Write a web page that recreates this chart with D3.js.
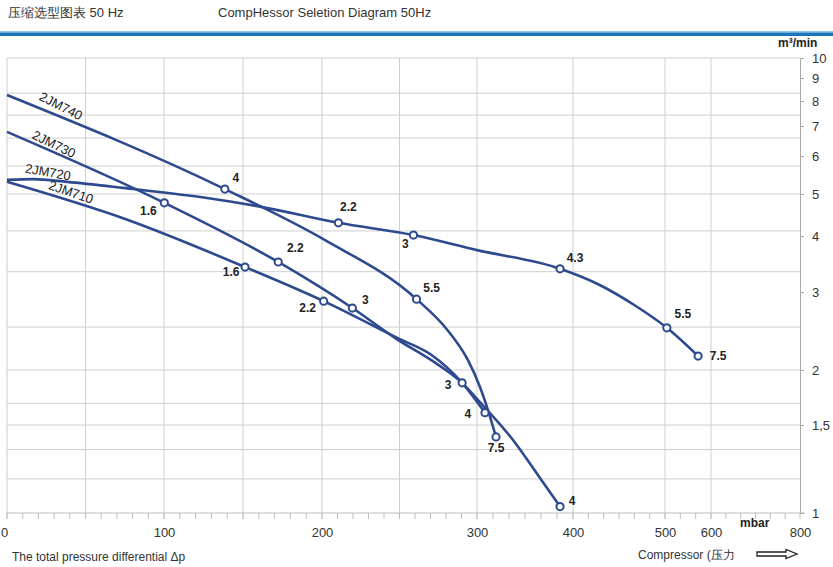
<!DOCTYPE html>
<html><head><meta charset="utf-8">
<script src="https://cdn.jsdelivr.net/npm/d3@7"></script>
<style>
html,body{margin:0;padding:0;background:#fff;}
svg{display:block;font-family:"Liberation Sans",Arial,sans-serif;}
</style></head>
<body>
<svg id="chart" width="833" height="567"></svg>
<script>
// ---------------- data ----------------
const titleLeft = "压缩选型图表 50 Hz";
const titleRight = "CompHessor Seletion Diagram 50Hz";
const xTickValues = [0, 100, 200, 300, 400, 500, 600, 800];
const xGridValues = [50, 100, 150, 200, 250, 300, 400, 500, 600];
const yTickValues = [1, 1.5, 2, 3, 4, 5, 6, 7, 8, 9, 10];
const yTickLabels = ["1", "1,5", "2", "3", "4", "5", "6", "7", "8", "9", "10"];
const yGridValues = [8.33, 7.42, 6.58, 5.72, 5.0, 4.11, 3.33, 2.5, 2.0, 1.68, 1.5, 1.34, 1.17];

const seriesNames = ["2JM740", "2JM730", "2JM720", "2JM710"];
// curve points: [pressure mbar, flow m3/min]
const curve740 = [[0,8.25],[138.5,5.12],[201.7,3.92],[261,2.89],[281,2.46],[294,2.11],[303.1,1.83],[311.5,1.62],[319.8,1.42]];
const curve730 = [[0,6.79],[100.2,4.77],[172.3,3.50],[219.6,2.76],[248.9,2.34],[270,2.11],[290.4,1.87],[303.1,1.69],[337.5,1.40],[365.6,1.175],[386.5,1.03]];
const curve720 = [[0,5.35],[16.6,5.37],[38.3,5.30],[74,5.15],[123,4.92],[161.5,4.67],[210.6,4.29],[259,4.02],[300,3.72],[386.5,3.38],[429,3.11],[467,2.80],[504,2.49],[572,2.15]];
const curve710 = [[0,5.30],[76.6,4.36],[151.3,3.41],[201.1,2.86],[248.9,2.36],[270,2.17],[290.4,1.87],[308.3,1.60]];
// markers: [pressure, flow, motor kW label]
const markers740 = [[138.5,5.12,"4"],[261,2.89,"5.5"],[319.8,1.42,"7.5"]];
const markers730 = [[100.2,4.77,"1.6"],[172.3,3.50,"2.2"],[219.6,2.76,"3"],[386.5,1.03,"4"]];
const markers720 = [[210.6,4.29,"2.2"],[259,4.02,"3"],[386.5,3.38,"4.3"],[504,2.49,"5.5"],[572,2.15,"7.5"]];
const markers710 = [[151.3,3.41,"1.6"],[201.1,2.86,"2.2"],[290.4,1.87,"3"],[308.3,1.60,"4"]];

// ---------------- layout ----------------
const svg = d3.select("#chart");
const blue = "#2d4a8f";
const gridCol = "#cfcfcf";

const x = d3.scaleLinear()
  .domain([0, 100, 200, 300, 400, 500, 600, 800])
  .range([7, 164, 322, 477, 573, 665, 711, 800]);
const y = d3.scaleLog()
  .domain([1, 1.5, 2, 3, 4, 5, 6, 7, 8, 9, 10])
  .range([513, 425, 370, 292, 236, 194, 156, 126, 101, 78, 58]);

// header
svg.append("text").attr("x", 8).attr("y", 17).attr("font-size", 13).attr("fill", "#333").text(titleLeft);
svg.append("text").attr("x", 218).attr("y", 17).attr("font-size", 13).attr("fill", "#333").text(titleRight);
svg.append("rect").attr("x", 0).attr("y", 31).attr("width", 833).attr("height", 1.5).attr("fill", "#8cc4ea");
svg.append("rect").attr("x", 0).attr("y", 32.5).attr("width", 833).attr("height", 3.5).attr("fill", "#1a77bd");

// grid
const g = svg.append("g");
g.selectAll("line.hg").data(yGridValues.concat([10])).enter().append("line")
  .attr("x1", x(0)).attr("x2", x(800))
  .attr("y1", d => y(d)).attr("y2", d => y(d))
  .attr("stroke", gridCol).attr("stroke-width", 1);
g.selectAll("line.vg").data(xGridValues).enter().append("line")
  .attr("x1", d => x(d)).attr("x2", d => x(d))
  .attr("y1", y(10)).attr("y2", y(1) + 6)
  .attr("stroke", gridCol).attr("stroke-width", 1);
// left border
g.append("line").attr("x1", x(0)).attr("x2", x(0)).attr("y1", y(10)).attr("y2", y(1) + 6)
  .attr("stroke", gridCol);
// bottom axis line
g.append("line").attr("x1", x(0)).attr("x2", x(800) + 5).attr("y1", y(1)).attr("y2", y(1))
  .attr("stroke", "#bdbdbd");
// minor ticks
const minorTicks = [].concat(
  d3.range(0, 300, 10),
  d3.range(0, 6).map(i => 300 + i * 100 / 6),
  d3.range(0, 6).map(i => 400 + i * 100 / 6),
  d3.range(0, 3).map(i => 500 + i * 100 / 3),
  d3.range(0, 7).map(i => 600 + i * 200 / 6)
);
g.selectAll("line.mt").data(minorTicks).enter().append("line")
  .attr("x1", d => x(d)).attr("x2", d => x(d))
  .attr("y1", y(1)).attr("y2", y(1) + 6)
  .attr("stroke", "#bdbdbd");

// right axis
const yAxis = d3.axisRight(y).tickValues(yTickValues)
  .tickFormat((d, i) => yTickLabels[i]).tickSize(4).tickSizeOuter(0).tickPadding(8);
const ya = svg.append("g").attr("transform", `translate(${x(800)},0)`).call(yAxis);
ya.select(".domain").attr("stroke", "#a8a8a8");
ya.selectAll(".tick line").attr("stroke", "#a8a8a8");
ya.selectAll(".tick text").attr("font-size", 13).attr("fill", "#333")
  .attr("font-family", "Liberation Sans, Arial, sans-serif");

// bottom axis labels
const xAxis = d3.axisBottom(x).tickValues(xTickValues).tickSize(0).tickPadding(15);
const xa = svg.append("g").attr("transform", `translate(0,${y(1)})`).call(xAxis);
xa.select(".domain").remove();
xa.selectAll(".tick text").attr("font-size", 13).attr("fill", "#333")
  .attr("font-family", "Liberation Sans, Arial, sans-serif")
  .attr("dx", d => d === 0 ? -3 : 0);

// unit labels
svg.append("text").attr("x", 778).attr("y", 47).attr("font-size", 12).attr("font-weight", "bold").attr("fill", "#222")
  .text("m³/min");
svg.append("text").attr("x", 740).attr("y", 527).attr("font-size", 12).attr("font-weight", "bold").attr("fill", "#222")
  .text("mbar");
svg.append("text").attr("x", 12).attr("y", 561).attr("font-size", 12).attr("fill", "#333")
  .text("The total pressure differential \u0394p");
svg.append("text").attr("x", 638).attr("y", 559).attr("font-size", 12).attr("fill", "#333")
  .text("Compressor (压力");
// arrow
svg.append("path")
  .attr("d", "M757,552 L786,552 L786,549.5 L797,554 L786,558.5 L786,556 L757,556 Z")
  .attr("fill", "#fff").attr("stroke", "#222").attr("stroke-width", 1.3);

// curves
const line = d3.line().x(d => x(d[0])).y(d => y(d[1])).curve(d3.curveMonotoneX);
const curves = [curve740, curve730, curve720, curve710];
svg.append("g").selectAll("path").data(curves).enter().append("path")
  .attr("d", line).attr("fill", "none").attr("stroke", blue).attr("stroke-width", 2.6)
  .attr("stroke-linejoin", "round");

// series name labels (rotated)
const nameLabels = [
  {name: seriesNames[0], cx: 61, cy: 106, a: 27},
  {name: seriesNames[1], cx: 54, cy: 144, a: 26},
  {name: seriesNames[2], cx: 48, cy: 172, a: 10},
  {name: seriesNames[3], cx: 71, cy: 192, a: 19}
];
svg.append("g").selectAll("text").data(nameLabels).enter().append("text")
  .attr("transform", d => `translate(${d.cx},${d.cy}) rotate(${d.a})`)
  .attr("text-anchor", "middle").attr("dy", "0.35em")
  .attr("font-size", 13).attr("fill", "#222").text(d => d.name);

// markers + power labels
const markerSets = [
  {pts: markers740, off: [[11,-11],[15,-11],[0,11]]},
  {pts: markers730, off: [[-16,8],[17,-14],[13,-8],[12,-6]]},
  {pts: markers720, off: [[10,-16],[-8,9],[15,-11],[16,-14],[20,0]]},
  {pts: markers710, off: [[-14,5],[-16,7],[-14,2],[-17,1]]}
];
markerSets.forEach(ms => {
  const gm = svg.append("g");
  gm.selectAll("circle").data(ms.pts).enter().append("circle")
    .attr("cx", d => x(d[0])).attr("cy", d => y(d[1])).attr("r", 3.6)
    .attr("fill", "#fff").attr("stroke", blue).attr("stroke-width", 2);
  gm.selectAll("text").data(ms.pts).enter().append("text")
    .attr("x", (d, i) => x(d[0]) + ms.off[i][0])
    .attr("y", (d, i) => y(d[1]) + ms.off[i][1])
    .attr("text-anchor", "middle").attr("dy", "0.35em")
    .attr("font-size", 12).attr("font-weight", "bold").attr("fill", "#222")
    .text(d => d[2]);
});
</script>
</body></html>
